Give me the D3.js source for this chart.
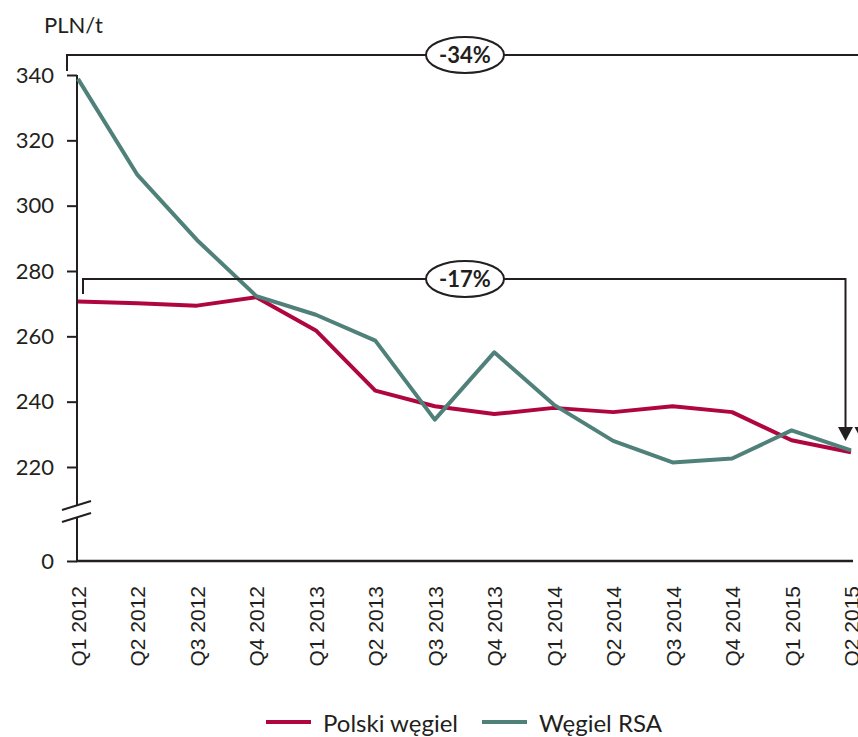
<!DOCTYPE html>
<html>
<head>
<meta charset="utf-8">
<script src="https://cdn.jsdelivr.net/npm/d3@7"></script>
<style>
	body { margin: 0; background: #fff; }
	text { fill: #231f20; }
</style>
</head>
<body>
<script>
const quarters = ["Q1 2012", "Q2 2012", "Q3 2012", "Q4 2012", "Q1 2013", "Q2 2013", "Q3 2013",
	"Q4 2013", "Q1 2014", "Q2 2014", "Q3 2014", "Q4 2014", "Q1 2015", "Q2 2015"];
const polskiWegiel = [270.7, 270.1, 269.4, 272.0, 261.8, 243.4, 238.6, 236.2, 238.1, 236.8, 238.6, 236.8, 228.2, 224.5];
const wegielRSA = [338.8, 309.4, 289.5, 272.3, 266.6, 258.7, 234.5, 255.1, 239.1, 228.0, 221.4, 222.6, 231.2, 225.1];
const yTicks = [0, 220, 240, 260, 280, 300, 320, 340];
const seriesNames = ["Polski węgiel", "Węgiel RSA"];
const changes = ["-34%", "-17%"];

const width = 858;
const height = 737;
const dark = "#231f20";
const colors = ["#b0063f", "#4f817a"];
const font = "Lato, 'Open Sans', sans-serif";

const svg = d3.select("body").append("svg")
	.attr("width", width)
	.attr("height", height);

const x = d3.scalePoint()
	.domain(quarters)
	.range([78, 851]);

// broken axis: 0 sits below the gap, 220..340 above it
const y = d3.scaleLinear()
	.domain([0, 220, 340])
	.range([561, 467, 75]);

// y axis
const yAxis = svg.append("g")
	.attr("transform", "translate(77,0)")
	.call(d3.axisLeft(y).tickValues(yTicks).tickSize(10).tickPadding(13).tickFormat(d3.format("d")));
yAxis.select(".domain").remove();
yAxis.selectAll(".tick line").attr("stroke", dark).attr("stroke-width", 2);
yAxis.selectAll(".tick text")
	.attr("font-family", font)
	.attr("font-size", 22)
	.attr("fill", dark);

// axis line with a gap for the break
svg.append("line")
	.attr("x1", 77).attr("x2", 77)
	.attr("y1", y(340)).attr("y2", 505)
	.attr("stroke", dark).attr("stroke-width", 2);
svg.append("line")
	.attr("x1", 77).attr("x2", 77)
	.attr("y1", 517).attr("y2", y(0))
	.attr("stroke", dark).attr("stroke-width", 2);
[510, 522].forEach(b => {
	svg.append("line")
		.attr("x1", 62).attr("y1", b)
		.attr("x2", 91).attr("y2", b - 9)
		.attr("stroke", dark).attr("stroke-width", 2);
});

// x axis
svg.append("line")
	.attr("x1", 76).attr("x2", 853)
	.attr("y1", y(0)).attr("y2", y(0))
	.attr("stroke", dark).attr("stroke-width", 2.5);

svg.append("g").selectAll("text")
	.data(quarters)
	.enter().append("text")
	.attr("transform", d => `translate(${x(d) + 8},586) rotate(-90)`)
	.attr("text-anchor", "end")
	.attr("font-family", "'Liberation Sans', Arial, sans-serif")
	.attr("font-size", 21)
	.text(d => d);

// unit label
svg.append("text")
	.attr("x", 44).attr("y", 33)
	.attr("font-family", font)
	.attr("font-size", 22)
	.text("PLN/t");

// lines
const line = d3.line()
	.x((d, i) => x(quarters[i]))
	.y(d => y(d));

[polskiWegiel, wegielRSA].forEach((s, i) => {
	svg.append("path")
		.datum(s)
		.attr("fill", "none")
		.attr("stroke", colors[i])
		.attr("stroke-width", 4)
		.attr("stroke-linejoin", "round")
		.attr("d", line);
});

// change brackets
const brackets = [
	{ label: changes[0], xl: 67, yTop: 55, yLeft: 71, xr: 862, yTip: 441 },
	{ label: changes[1], xl: 83, yTop: 279, yLeft: 294, xr: 845.5, yTip: 441 }
];

brackets.forEach(b => {
	svg.append("path")
		.attr("d", `M${b.xl},${b.yLeft}V${b.yTop}H${b.xr}V${b.yTip - 12}`)
		.attr("fill", "none")
		.attr("stroke", dark)
		.attr("stroke-width", 2);
	svg.append("path")
		.attr("d", `M${b.xr - 7.5},${b.yTip - 14}L${b.xr + 7.5},${b.yTip - 14}L${b.xr},${b.yTip}Z`)
		.attr("fill", dark);
	svg.append("ellipse")
		.attr("cx", 465).attr("cy", b.yTop)
		.attr("rx", 39).attr("ry", 18)
		.attr("fill", "#fff")
		.attr("stroke", dark)
		.attr("stroke-width", 2);
	svg.append("text")
		.attr("x", 465).attr("y", b.yTop + 8)
		.attr("text-anchor", "middle")
		.attr("font-family", font)
		.attr("font-weight", "bold")
		.attr("font-size", 22)
		.text(b.label);
});

// legend
const legend = svg.append("g");
const legendX = [266, 482];
seriesNames.forEach((n, i) => {
	legend.append("line")
		.attr("x1", legendX[i]).attr("x2", legendX[i] + 45)
		.attr("y1", 722).attr("y2", 722)
		.attr("stroke", colors[i])
		.attr("stroke-width", 4);
	legend.append("text")
		.attr("x", legendX[i] + 57).attr("y", 732)
		.attr("font-family", font)
		.attr("font-size", 24)
		.text(n);
});
</script>
</body>
</html>
